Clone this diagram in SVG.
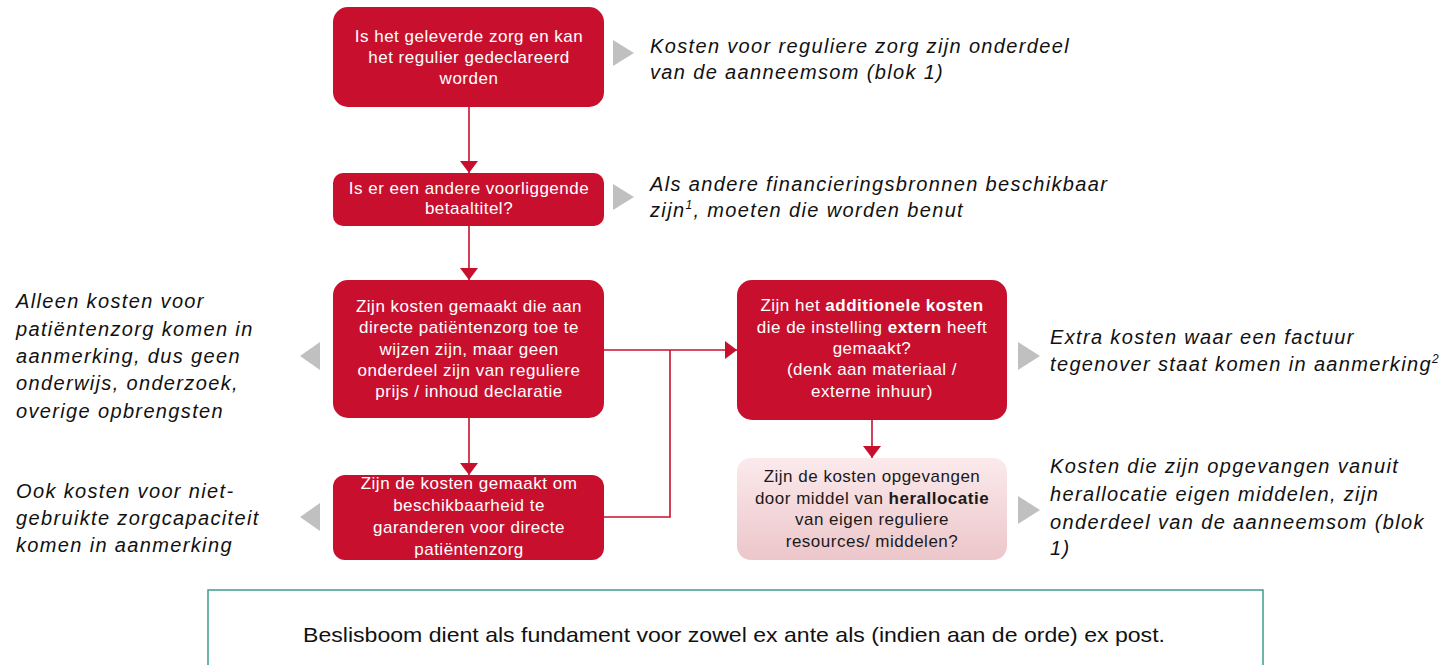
<svg xmlns="http://www.w3.org/2000/svg" width="1449" height="665" viewBox="0 0 1449 665">
<style>
.box{fill:#c8102e}
.bt{font-family:"Liberation Sans",Arial,sans-serif;font-size:17px;letter-spacing:0.5px;fill:#ffffff;text-anchor:middle}
.pt{font-family:"Liberation Sans",Arial,sans-serif;font-size:17px;letter-spacing:0.5px;fill:#1a1a1a;text-anchor:middle}
.it{font-family:"Liberation Sans",Arial,sans-serif;font-size:20px;letter-spacing:1.35px;font-style:italic;fill:#111111}
.tri{fill:#c0c0c0}
.ln{stroke:#c8102e;stroke-width:1.6;fill:none}
.b{font-weight:bold}
</style>
<defs>
<marker id="ah" viewBox="0 0 12 18" refX="12" refY="9" markerWidth="12" markerHeight="18" markerUnits="userSpaceOnUse" orient="auto">
<path d="M0,0 L12,9 L0,18 Z" fill="#c8102e"/>
</marker>
<linearGradient id="pk" x1="0" y1="0" x2="0" y2="1">
<stop offset="0" stop-color="#fbeaec"/>
<stop offset="1" stop-color="#ecc6ca"/>
</linearGradient>
</defs>

<g id="connectors">
<line class="ln" x1="469" y1="107" x2="469" y2="173" marker-end="url(#ah)"/>
<line class="ln" x1="469" y1="226" x2="469" y2="280" marker-end="url(#ah)"/>
<line class="ln" x1="469" y1="418" x2="469" y2="475" marker-end="url(#ah)"/>
<line class="ln" x1="604" y1="350" x2="737" y2="350" marker-end="url(#ah)"/>
<polyline class="ln" points="604,517 670,517 670,350"/>
<line class="ln" x1="872" y1="420" x2="872" y2="458" marker-end="url(#ah)"/>
</g>

<g id="node1">
<rect class="box" x="333" y="7" width="271" height="100" rx="15"/>
<text class="bt" x="469" y="42">Is het geleverde zorg en kan</text>
<text class="bt" x="469" y="63">het regulier gedeclareerd</text>
<text class="bt" x="469" y="84">worden</text>
</g>
<g id="node2">
<rect class="box" x="333" y="173" width="271" height="53" rx="10"/>
<text class="bt" x="469" y="194">Is er een andere voorliggende</text>
<text class="bt" x="469" y="214">betaaltitel?</text>
</g>
<g id="node3">
<rect class="box" x="333" y="280" width="271" height="138" rx="15"/>
<text class="bt" x="469" y="312">Zijn kosten gemaakt die aan</text>
<text class="bt" x="469" y="333">directe patiëntenzorg toe te</text>
<text class="bt" x="469" y="355">wijzen zijn, maar geen</text>
<text class="bt" x="469" y="376">onderdeel zijn van reguliere</text>
<text class="bt" x="469" y="397">prijs / inhoud declaratie</text>
</g>
<g id="node4">
<rect class="box" x="333" y="475" width="271" height="85" rx="12"/>
<text class="bt" x="469" y="489">Zijn de kosten gemaakt om</text>
<text class="bt" x="469" y="511">beschikbaarheid te</text>
<text class="bt" x="469" y="533">garanderen voor directe</text>
<text class="bt" x="469" y="555">patiëntenzorg</text>
</g>
<g id="node5">
<rect class="box" x="737" y="280" width="270" height="140" rx="15"/>
<text class="bt" x="872" y="311">Zijn het <tspan class="b">additionele kosten</tspan></text>
<text class="bt" x="872" y="333">die de instelling <tspan class="b">extern</tspan> heeft</text>
<text class="bt" x="872" y="354">gemaakt?</text>
<text class="bt" x="872" y="375">(denk aan materiaal /</text>
<text class="bt" x="872" y="397">externe inhuur)</text>
</g>
<g id="node6">
<rect x="737" y="458" width="270" height="102" rx="14" fill="url(#pk)"/>
<text class="pt" x="872" y="482">Zijn de kosten opgevangen</text>
<text class="pt" x="872" y="504">door middel van <tspan class="b">herallocatie</tspan></text>
<text class="pt" x="872" y="525">van eigen reguliere</text>
<text class="pt" x="872" y="547">resources/ middelen?</text>
</g>

<g id="outcome1">
<polygon class="tri" points="613,40 634,53 613,66"/>
<text class="it" x="650" y="53">Kosten voor reguliere zorg zijn onderdeel</text>
<text class="it" x="650" y="79">van de aanneemsom (blok 1)</text>
</g>
<g id="outcome2">
<polygon class="tri" points="613,184 634,197 613,210"/>
<text class="it" x="650" y="191">Als andere financieringsbronnen beschikbaar</text>
<text class="it" x="650" y="217">zijn<tspan font-size="12" dy="-8">1</tspan><tspan dy="8">, moeten die worden benut</tspan></text>
</g>
<g id="outcome3">
<polygon class="tri" points="320,342 300,356 320,370"/>
<text class="it" x="16" y="308">Alleen kosten voor</text>
<text class="it" x="16" y="336">patiëntenzorg komen in</text>
<text class="it" x="16" y="363">aanmerking, dus geen</text>
<text class="it" x="16" y="390">onderwijs, onderzoek,</text>
<text class="it" x="16" y="418">overige opbrengsten</text>
</g>
<g id="outcome4">
<polygon class="tri" points="320,503 300,517 320,531"/>
<text class="it" x="16" y="498">Ook kosten voor niet-</text>
<text class="it" x="16" y="525">gebruikte zorgcapaciteit</text>
<text class="it" x="16" y="552">komen in aanmerking</text>
</g>
<g id="outcome5">
<polygon class="tri" points="1018,342 1040,356 1018,370"/>
<text class="it" x="1050" y="344">Extra kosten waar een factuur</text>
<text class="it" x="1050" y="371">tegenover staat komen in aanmerking<tspan font-size="12" dy="-8">2</tspan></text>
</g>
<g id="outcome6">
<polygon class="tri" points="1018,496 1040,510 1018,524"/>
<text class="it" x="1050" y="473">Kosten die zijn opgevangen vanuit</text>
<text class="it" x="1050" y="501">herallocatie eigen middelen, zijn</text>
<text class="it" x="1050" y="529">onderdeel van de aanneemsom (blok</text>
<text class="it" x="1050" y="555">1)</text>
</g>

<g id="note">
<rect x="208" y="590" width="1055" height="100" fill="#ffffff" stroke="#3f9c8e" stroke-width="1.5"/>
<text x="303" y="642" font-family="'Liberation Sans',Arial,sans-serif" font-size="21" fill="#111111" textLength="862" lengthAdjust="spacingAndGlyphs">Beslisboom dient als fundament voor zowel ex ante als (indien aan de orde) ex post.</text>
</g>
</svg>
